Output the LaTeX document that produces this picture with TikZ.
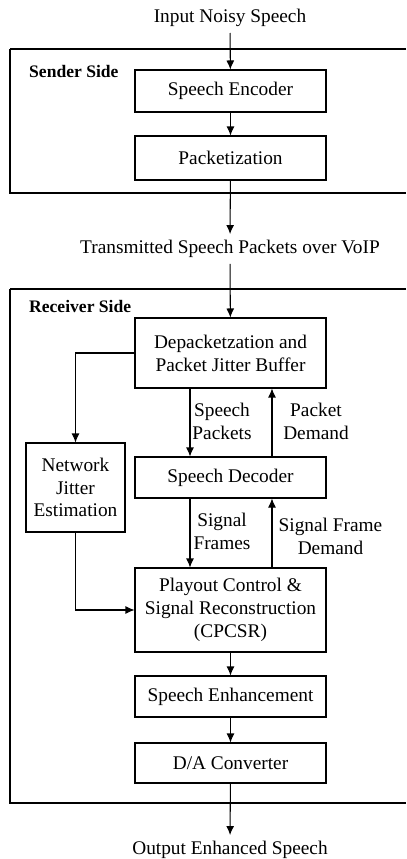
\documentclass[tikz,border=0pt]{standalone}
\usepackage{fontspec}
\setmainfont{Liberation Serif}
\usetikzlibrary{arrows.meta,positioning}

\begin{document}
\begin{tikzpicture}[
  x=0.02cm, y=-0.02cm,
  font=\fontsize{11}{13}\selectfont,
  block/.style={draw, line width=0.6pt, align=center, minimum width=3.82cm, inner sep=2pt},
  side/.style={draw, line width=0.6pt},
  sidelabel/.style={anchor=west, font=\fontsize{10}{12}\selectfont\bfseries},
  note/.style={align=center},
  arrow/.style={-{Latex[length=1.8mm,width=1.6mm]}, line width=0.6pt}
]
\useasboundingbox (0,0) rectangle (406,859);

% sender side
\draw[side] (406,49) -- (10,49);
\draw[side, line width=1.1pt] (10,49) -- (10,193) -- (406,193);
\node[sidelabel] (snd) at (23,71) {Sender Side};

\node[note] (inp) at (230,18) {Input Noisy Speech};
\node[block, minimum height=0.84cm] (enc) at (230.5,91) {Speech Encoder};
\node[block, minimum height=0.88cm] (pkt) at (230.5,158) {Packetization};
\node[note] (tsp) at (230,249) {Transmitted Speech Packets over VoIP};

% receiver side
\draw[side] (406,289) -- (10,289);
\draw[side, line width=1.1pt] (10,289) -- (10,803) -- (406,803);
\node[sidelabel] (rcv) at (23,306) {Receiver Side};

\node[block, minimum height=1.4cm] (dep) at (230.5,353) {Depacketzation and\\Packet Jitter Buffer};
\node[block, minimum height=0.82cm] (dec) at (230.5,477.5) {Speech Decoder};
\node[block, minimum height=1.68cm] (pcsr) at (230.5,610) {Playout Control \&\\Signal Reconstruction\\(CPCSR)};
\node[block, minimum height=0.82cm] (enh) at (230.5,696.5) {Speech Enhancement};
\node[block, minimum height=0.8cm] (da) at (230.5,763) {D/A Converter};
\node[block, minimum width=1.98cm, minimum height=1.78cm] (nje) at (75.5,487.5) {Network\\Jitter\\Estimation};
\node[note] (out) at (230,850) {Output Enhanced Speech};

\node[note] (spk) at (222,421.5) {Speech\\Packets};
\node[note] (pdm) at (316,421.5) {Packet\\Demand};
\node[note] (sfr) at (222,531.5) {Signal\\Frames};
\node[note] (sfd) at (330.5,536) {Signal Frame\\Demand};

\draw[arrow] (inp) -- (enc);
\draw[arrow] (enc) -- (pkt);
\draw[arrow] (pkt) -- (tsp);
\draw[arrow] (tsp) -- (dep);
\draw[arrow] (dep.west) -| (nje.north);
\draw[arrow] (nje.south) |- (pcsr.west);
\draw[arrow] ([xshift=-0.81cm]dep.south) -- ([xshift=-0.81cm]dec.north);
\draw[arrow] ([xshift=0.83cm]dec.north) -- ([xshift=0.83cm]dep.south);
\draw[arrow] ([xshift=-0.81cm]dec.south) -- ([xshift=-0.81cm]pcsr.north);
\draw[arrow] ([xshift=0.83cm]pcsr.north) -- ([xshift=0.83cm]dec.south);
\draw[arrow] (pcsr) -- (enh);
\draw[arrow] (enh) -- (da);
\draw[arrow] (da) -- (out);
\end{tikzpicture}
\end{document}
